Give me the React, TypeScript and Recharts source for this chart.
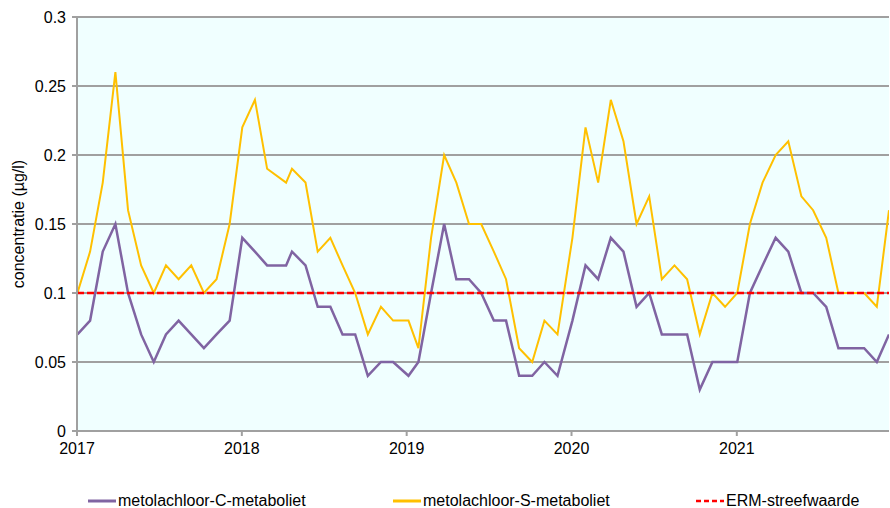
import { CartesianGrid, Legend, Line, LineChart, ReferenceLine, XAxis, YAxis } from "recharts";

// sample dates (4-weekly) and measured concentrations in µg/l
const sampleDates = [
  "2017-01-02", "2017-01-30", "2017-02-27", "2017-03-27", "2017-04-24", "2017-05-23", "2017-06-20",
  "2017-07-17", "2017-08-14", "2017-09-11", "2017-10-09", "2017-11-06", "2017-12-05",
  "2018-01-02", "2018-01-30", "2018-02-26", "2018-04-09", "2018-04-22", "2018-05-22", "2018-06-18",
  "2018-07-16", "2018-08-12", "2018-09-09", "2018-10-07", "2018-11-05", "2018-12-02",
  "2019-01-05", "2019-01-27", "2019-02-24", "2019-03-25", "2019-04-21", "2019-05-19", "2019-06-15",
  "2019-07-13", "2019-08-09", "2019-09-07", "2019-10-06", "2019-11-02", "2019-12-01",
  "2020-01-03", "2020-02-01", "2020-02-29", "2020-03-28", "2020-04-25", "2020-05-24", "2020-06-21",
  "2020-07-19", "2020-08-16", "2020-09-13", "2020-10-11", "2020-11-08", "2020-12-06",
  "2021-01-02", "2021-01-30", "2021-02-27", "2021-03-28", "2021-04-25", "2021-05-24", "2021-06-19",
  "2021-07-18", "2021-08-14", "2021-09-13", "2021-10-10", "2021-11-07", "2021-12-04",
];

const cMetaboliet = [
  0.07, 0.08, 0.13, 0.15, 0.10, 0.07, 0.05, 0.07, 0.08, 0.07, 0.06, 0.07, 0.08,
  0.14, 0.13, 0.12, 0.12, 0.13, 0.12, 0.09, 0.09, 0.07, 0.07, 0.04, 0.05, 0.05,
  0.04, 0.05, 0.10, 0.15, 0.11, 0.11, 0.10, 0.08, 0.08, 0.04, 0.04, 0.05, 0.04,
  0.08, 0.12, 0.11, 0.14, 0.13, 0.09, 0.10, 0.07, 0.07, 0.07, 0.03, 0.05, 0.05,
  0.05, 0.10, 0.12, 0.14, 0.13, 0.10, 0.10, 0.09, 0.06, 0.06, 0.06, 0.05, 0.07,
];

const sMetaboliet = [
  0.10, 0.13, 0.18, 0.26, 0.16, 0.12, 0.10, 0.12, 0.11, 0.12, 0.10, 0.11, 0.15,
  0.22, 0.24, 0.19, 0.18, 0.19, 0.18, 0.13, 0.14, 0.12, 0.10, 0.07, 0.09, 0.08,
  0.08, 0.06, 0.14, 0.20, 0.18, 0.15, 0.15, 0.13, 0.11, 0.06, 0.05, 0.08, 0.07,
  0.14, 0.22, 0.18, 0.24, 0.21, 0.15, 0.17, 0.11, 0.12, 0.11, 0.07, 0.10, 0.09,
  0.10, 0.15, 0.18, 0.20, 0.21, 0.17, 0.16, 0.14, 0.10, 0.10, 0.10, 0.09, 0.16,
];

const ermStreefwaarde = 0.1;
const years = [2017, 2018, 2019, 2020, 2021];
const yTicks = [0, 0.05, 0.1, 0.15, 0.2, 0.25, 0.3];

const PURPLE = "#8064A2";
const YELLOW = "#FFC000";
const RED = "#FF0000";
const GRID = "#A0A0A0";

const data = sampleDates.map((d, i) => ({
  t: Date.parse(d),
  c: cMetaboliet[i],
  s: sMetaboliet[i],
}));

const yearTicks = years.map((y) => Date.UTC(y, 0, 1));

const legendItems = [
  { name: "metolachloor-C-metaboliet", color: PURPLE, dashed: false, left: 88 },
  { name: "metolachloor-S-metaboliet", color: YELLOW, dashed: false, left: 393 },
  { name: "ERM-streefwaarde", color: RED, dashed: true, left: 696 },
];

function ChartLegend() {
  return (
    <div style={{ position: "relative", height: 0 }}>
      {legendItems.map((it) => (
        <div
          key={it.name}
          style={{
            position: "absolute",
            left: it.left,
            top: 0,
            display: "flex",
            alignItems: "center",
            whiteSpace: "nowrap",
            fontSize: 16,
            color: "#000",
          }}
        >
          <svg width={30} height={6}>
            <line
              x1={0}
              y1={3}
              x2={28}
              y2={3}
              stroke={it.color}
              strokeWidth={it.dashed ? 2.5 : 3}
              strokeDasharray={it.dashed ? "5 3" : undefined}
            />
          </svg>
          <span>{it.name}</span>
        </div>
      ))}
    </div>
  );
}

function YLabel({ viewBox }: any) {
  const x = 18;
  const y = viewBox.y + viewBox.height / 2;
  return (
    <text
      x={x}
      y={y}
      transform={`rotate(-90, ${x}, ${y})`}
      textAnchor="middle"
      dominantBaseline="central"
      fontSize={16}
      fill="#000"
    >
      concentratie  (µg/l)
    </text>
  );
}

export default function App() {
  return (
    <div style={{ position: "absolute", left: 0, top: 0, fontFamily: "'Liberation Sans', Arial, sans-serif" }}>
      <LineChart
        width={890}
        height={508}
        data={data}
        margin={{ top: 17, right: 1, left: 0, bottom: 47 }}
        style={{ fontFamily: "'Liberation Sans', Arial, sans-serif" }}
      >
        <CartesianGrid vertical={false} stroke={GRID} strokeWidth={2} fill="#F0FFFF" fillOpacity={1} />
        <XAxis
          dataKey="t"
          type="number"
          scale="time"
          domain={[yearTicks[0], data[data.length - 1].t]}
          ticks={yearTicks}
          tickFormatter={(v) => String(new Date(v).getUTCFullYear())}
          stroke={GRID}
          strokeWidth={2}
          tickSize={5}
          tickMargin={7}
          tick={{ fill: "#000", fontSize: 16 }}
          height={30}
          allowDataOverflow
        />
        <YAxis
          type="number"
          domain={[0, 0.3]}
          ticks={yTicks}
          tickFormatter={(v) => String(v)}
          stroke={GRID}
          strokeWidth={2}
          tickSize={5}
          tickMargin={6}
          tick={{ fill: "#000", fontSize: 16 }}
          width={77}
          label={<YLabel />}
        />
        <Line
          type="linear"
          dataKey="c"
          stroke={PURPLE}
          strokeWidth={2.5}
          dot={false}
          isAnimationActive={false}
        />
        <Line
          type="linear"
          dataKey="s"
          stroke={YELLOW}
          strokeWidth={2}
          dot={false}
          isAnimationActive={false}
        />
        <ReferenceLine y={ermStreefwaarde} stroke={RED} strokeWidth={2.5} strokeDasharray="7 3" />
        <Legend
          content={() => <ChartLegend />}
          wrapperStyle={{ left: 0, top: 492, bottom: "auto", width: 890 }}
        />
      </LineChart>
    </div>
  );
}
